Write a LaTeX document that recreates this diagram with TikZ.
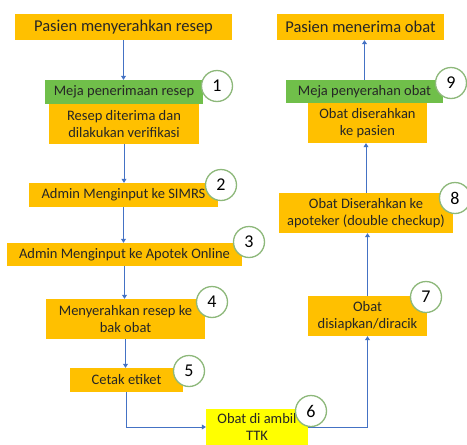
\documentclass[tikz,border=0pt]{standalone}
\usepackage{fontspec}
\setmainfont{Carlito}
\usetikzlibrary{arrows.meta}
\definecolor{ogold}{HTML}{FFC000}
\definecolor{ogreen}{HTML}{70BF4A}
\definecolor{oyellow}{HTML}{FFFF00}
\definecolor{cgreen}{HTML}{8DB87A}
\definecolor{oblue}{HTML}{4472C4}
\definecolor{otext}{HTML}{262626}
\tikzset{
  box/.style={fill=ogold, draw=none, inner sep=0pt, align=center, text=otext,
    font=\fontsize{14.5}{16.5}\selectfont},
  bigbox/.style={box, font=\fontsize{16.5}{18}\selectfont},
  gbox/.style={box, fill=ogreen},
  ybox/.style={box, fill=oyellow},
  num/.style={circle, draw=cgreen, line width=1.3pt, fill=white, minimum size=31pt,
    inner sep=0pt, text=black, font=\fontsize{18}{18}\selectfont},
  conn/.style={draw=oblue, line width=0.8pt, -{Triangle[width=5pt,length=4pt]}},
}
\begin{document}
\begin{tikzpicture}[x=1pt,y=-1pt]
\useasboundingbox (0,0) rectangle (467,445);
\clip (0,0) rectangle (467,445);
% left column
\node[bigbox, minimum width=217pt, minimum height=26pt] (b0) at (123.5,27) {Pasien menyerahkan resep};
\node[gbox, minimum width=158pt, minimum height=24pt] (g1) at (124,92) {Meja penerimaan resep};
\node[box, minimum width=150pt, minimum height=40pt] (o1) at (124,124) {Resep diterima dan\\dilakukan verifikasi};
\node[box, minimum width=189pt, minimum height=24pt] (b2) at (123.5,195) {Admin Menginput ke SIMRS};
\node[box, minimum width=235pt, minimum height=23pt] (b3) at (124.5,254.5) {Admin Menginput ke Apotek Online};
\node[box, minimum width=159pt, minimum height=40pt] (b4) at (125.5,319) {Menyerahkan resep ke\\bak obat};
\node[box, minimum width=113pt, minimum height=24pt] (b5) at (126.5,380) {Cetak etiket};
\node[ybox, minimum width=102pt, minimum height=36pt] (b6) at (257,427) {Obat di ambil\\TTK};
% right column
\node[box, minimum width=119pt, minimum height=40pt] (b7) at (367.5,316) {Obat\\disiapkan/diracik};
\node[box, minimum width=174pt, minimum height=40pt] (b8) at (366,213) {Obat Diserahkan ke\\apoteker (double checkup)};
\node[box, minimum width=119pt, minimum height=40pt] (o9) at (367.5,123) {Obat diserahkan\\ke pasien};
\node[gbox, minimum width=157pt, minimum height=23pt] (g9) at (364.5,91.5) {Meja penyerahan obat};
\node[bigbox, minimum width=167pt, minimum height=26pt] (t) at (360.5,27) {Pasien menerima obat};
% connectors
\draw[conn] (b0.south) -- (b0.south |- g1.north);
\draw[conn] (o1.south) -- (o1.south |- b2.north);
\draw[conn] (b2.south) -- (b2.south |- b3.north);
\draw[conn] (b3.south) -- (b3.south |- b4.north);
\draw[conn] (b4.south) -- (b4.south |- b5.north);
\draw[conn] (b5.south) |- (b6.west);
\draw[conn] (b6.east) -| (b7.south);
\draw[conn] (b7.north) -- (b7.north |- b8.south);
\draw[conn] (b8.north) -- (b8.north |- o9.south);
\draw[conn] (g9.north) -- (g9.north |- t.south);
% numbers
\node[num] (n1) at (217,86) {1};
\node[num] (n2) at (221,185) {2};
\node[num] (n3) at (249,242) {3};
\node[num] (n4) at (212,302) {4};
\node[num] (n5) at (189,371) {5};
\node[num] (n6) at (311,411) {6};
\node[num] (n7) at (426,297) {7};
\node[num] (n8) at (455,198) {8};
\node[num] (n9) at (451,83) {9};
\end{tikzpicture}
\end{document}
